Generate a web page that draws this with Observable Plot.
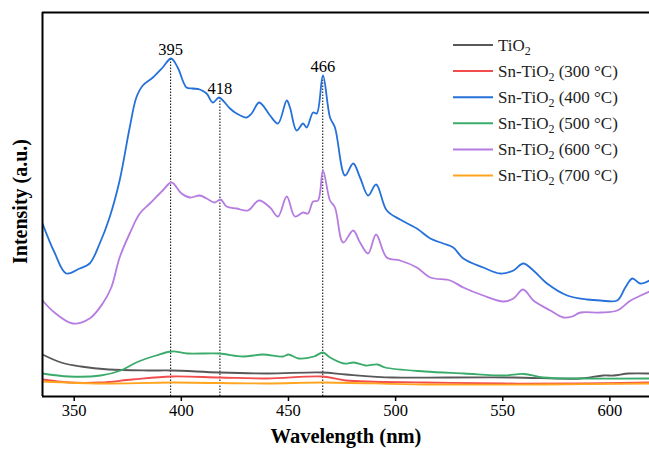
<!DOCTYPE html>
<html><head><meta charset="utf-8">
<script src="https://cdn.jsdelivr.net/npm/d3@7"></script>
<script src="https://cdn.jsdelivr.net/npm/@observablehq/plot@0.6"></script>
<style>body{margin:0;background:#fff;} #chart{width:649px;height:449px;}</style>
</head><body><div id="chart"></div>
<script>
const seriesNames = ["TiO2", "Sn-TiO2 (300 °C)", "Sn-TiO2 (400 °C)", "Sn-TiO2 (500 °C)", "Sn-TiO2 (600 °C)", "Sn-TiO2 (700 °C)"];
const seriesColors = ["#58585a", "#f24c4c", "#2671d9", "#3aab6b", "#b67ce1", "#ffa41f"];

// [wavelength (nm), intensity (a.u.)]
const tio2 = [[335.2,42],[343.9,34],[353.1,30],[366.1,27],[384.5,26],[395.5,26],[417.7,24],[439.9,23],[465.7,24],[476.8,22],[498.9,19],[524.0,19],[555.0,19],[586.3,18],[596.8,21],[601.7,21],[608.8,23],[618.5,23]];
const sn300 = [[335.2,17],[347.6,14],[362.3,14],[377.1,17],[395.5,20],[417.7,19],[439.9,18],[466.1,20],[476.8,16],[513.7,14],[550.6,13],[586.3,13],[618.5,14]];
const sn400 = [[335.2,173],[340.8,144],[346.3,123],[352.5,128],[357.2,133],[361.9,153],[366.5,179],[371.2,216],[375.9,269],[379.0,299],[382.0,311],[386.7,319],[391.3,329],[395.2,338],[398.3,329],[402.4,309],[405.3,308],[408.6,307],[411.8,303],[414.7,294],[417.5,299],[419.4,296],[422.7,288],[425.8,283],[430.5,279],[432.8,283],[436.2,294],[438.1,291],[441.4,281],[445.1,273],[449.2,296],[450.7,289],[453.8,266],[456.8,273],[458.5,269],[461.5,284],[463.2,283],[466.1,321],[469.4,279],[471.7,269],[476.4,221],[480.2,233],[483.4,219],[487.2,201],[490.9,212],[495.9,186],[502.1,177],[509.9,168],[516.2,158],[522.2,153],[526.9,149],[531.6,138],[540.9,129],[548.9,123],[555.0,126],[559.6,133],[564.3,126],[570.7,113],[580.1,101],[589.4,97],[595.6,96],[603.4,96],[607.2,109],[610.5,118],[614.2,113],[618.5,116]];
const sn500 = [[335.2,23],[347.6,20],[362.3,21],[371.7,26],[379.0,34],[388.2,41],[395.5,45],[403.0,43],[417.7,43],[428.7,40],[438.1,42],[447.3,40],[450.0,42],[454.7,38],[461.9,40],[466.1,44],[469.4,39],[475.9,33],[480.5,34],[486.0,31],[491.6,32],[495.1,29],[513.7,25],[532.0,23],[550.6,21],[559.9,22.5],[569.0,19],[587.5,18],[618.5,18]];
const sn600 = [[335.2,96],[340.8,84],[349.3,73],[357.2,78],[363.3,93],[367.3,109],[371.2,139],[375.9,163],[380.6,183],[385.3,193],[391.3,206],[395.4,214],[400.1,203],[404.0,199],[408.6,201],[411.8,198],[415.6,194],[418.3,197],[421.1,190],[425.8,188],[431.1,186],[436.2,196],[441.4,189],[445.1,180],[449.2,200],[453.0,180],[456.8,184],[459.1,183],[461.5,195],[463.8,196],[466.1,226],[469.4,196],[471.7,189],[475.5,154],[480.2,166],[483.4,154],[487.2,143],[490.9,162],[495.9,139],[502.1,136],[509.9,129],[516.2,119],[525.5,116],[531.6,109],[540.9,101],[550.3,95],[555.0,98],[559.5,107],[564.3,96],[572.2,86],[578.3,79],[582.4,80],[586.3,84],[595.6,84],[603.4,86],[609.7,96],[614.4,101],[618.5,105]];
const sn700 = [[335.2,15],[362.3,13],[395.5,14],[439.9,13],[465.7,14],[513.7,12],[569.0,12],[618.5,13]];

const peaks = [395, 418, 466];
const peakHeights = [338, 299, 321];
const xTicks = [350, 400, 450, 500, 550, 600];
const xDomain = [335.2, 618.5];
const yDomain = [0, 384];

const series = [tio2, sn300, sn400, sn500, sn600, sn700];
const rows = [];
series.forEach((s, i) => s.forEach(([w, v]) => rows.push({w, v, name: seriesNames[i]})));
const peakRows = peaks.map((p, i) => ({p, h: peakHeights[i]}));

const font = "'Liberation Serif', 'Times New Roman', serif";
const plot = Plot.plot({
  width: 649, height: 449,
  marginLeft: 42, marginTop: 12, marginBottom: 53, marginRight: 0,
  x: {domain: xDomain},
  y: {domain: yDomain, axis: null},
  color: {domain: seriesNames, range: seriesColors},
  style: {fontFamily: font, background: "#fff", color: "#000", overflow: "visible"},
  marks: [
    Plot.ruleX(peakRows, {x: "p", y1: 0, y2: "h", stroke: "#000", strokeWidth: 1, strokeDasharray: "1.5,1.5"}),
    Plot.line(rows, {x: "w", y: "v", z: "name", stroke: "name", strokeWidth: 1.8, curve: "catmull-rom", clip: true}),
    Plot.text(peakRows, {x: "p", y: "h", text: d => String(d.p), dy: -9, fontSize: 16.5, fontFamily: font, fill: "#000"}),
    Plot.axisX({ticks: xTicks, tickSize: 5, tickPadding: 3, fontSize: 16.5, fontFamily: font, label: null, strokeWidth: 1.5}),
    Plot.ruleY([yDomain[0]], {stroke: "#000", strokeWidth: 2}),
    Plot.ruleY([yDomain[1]], {stroke: "#000", strokeWidth: 2}),
    Plot.ruleX([xDomain[0]], {stroke: "#000", strokeWidth: 2}),
    Plot.text(["Wavelength (nm)"], {text: d => d, frameAnchor: "bottom", textAnchor: "middle", lineAnchor: "middle", dy: 40, fontSize: 20.5, fontWeight: "bold", fontFamily: font, fill: "#000"}),
    Plot.text(["Intensity (a.u.)"], {text: d => d, frameAnchor: "left", textAnchor: "middle", lineAnchor: "middle", rotate: -90, dx: -22, dy: -3, fontSize: 20, fontWeight: "bold", fontFamily: font, fill: "#000"})
  ]
});

const svg = d3.select(plot);
const lg = svg.append("g").attr("font-family", font).attr("font-size", 17).attr("text-anchor", "start");
seriesNames.forEach((n, i) => {
  const y = 45 + i * 26.1;
  lg.append("line").attr("x1", 453).attr("x2", 493).attr("y1", y).attr("y2", y)
    .attr("stroke", seriesColors[i]).attr("stroke-width", 2);
  const t = lg.append("text").attr("x", 498).attr("y", y + 5.5).attr("fill", "#222").attr("text-anchor", "start");
  const idx = n.indexOf("O2");
  t.append("tspan").text(n.slice(0, idx + 1));
  t.append("tspan").attr("dy", 4).attr("font-size", 12).text("2");
  t.append("tspan").attr("dy", -4).text(n.slice(idx + 2));
});

document.getElementById("chart").appendChild(plot);
</script>
</body></html>
